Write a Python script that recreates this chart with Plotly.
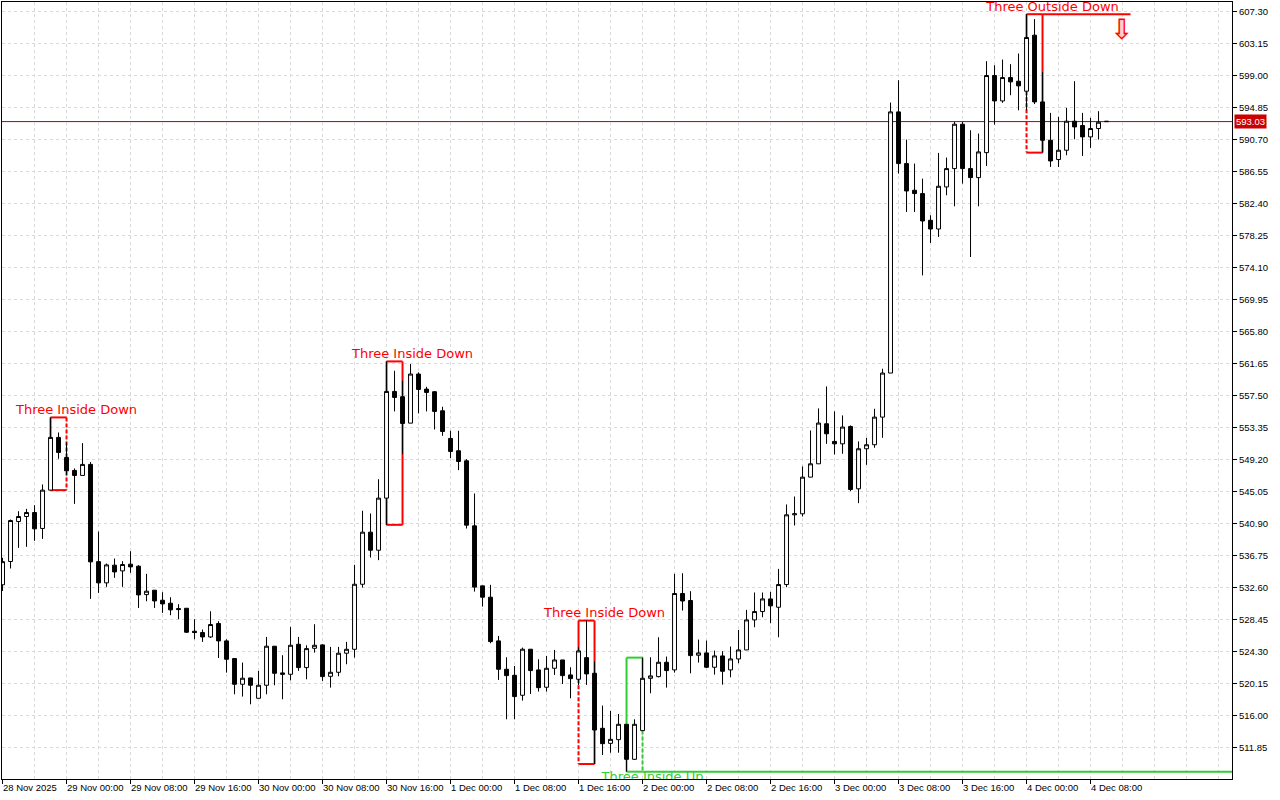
import pandas as pd
import plotly.graph_objects as go

# ---------------- data ----------------
start_time = "2025-11-28 16:00"
n_bars = 139
times = pd.date_range(start_time, periods=n_bars, freq="h")

opens = [533.0, 536.02, 541.2, 541.85, 542.37, 540.3, 545.27, 552.10, 549.5, 547.82,
         547.17, 548.6, 536.0, 533.25, 535.54, 534.8, 535.67, 535.41, 531.73, 532.3,
         531.0, 530.61, 529.92, 529.96, 526.98, 526.81, 526.24, 527.98, 525.73, 523.44,
         520.11, 520.93, 518.29, 519.98, 525.04, 521.58, 521.40, 525.29, 522.27, 524.77,
         525.21, 521.14, 521.66, 524.13, 524.64, 533.07, 539.82, 537.48, 544.23, 558.06,
         557.37, 553.95, 560.31, 558.36, 558.02, 555.55, 551.97, 550.37, 549.07, 540.64,
         532.86, 531.39, 525.73, 522.05, 521.27, 518.68, 524.65, 521.97, 519.72, 522.18,
         523.26, 521.32, 520.75, 523.56, 521.53, 514.40, 512.45, 512.93, 514.92, 510.38,
         514.10, 520.88, 521.10, 522.96, 521.97, 531.87, 530.96, 523.87, 524.17, 522.31,
         523.78, 521.97, 523.39, 524.56, 528.45, 529.53, 531.17, 530.09, 533.03, 542.07,
         542.2, 546.95, 548.68, 553.87, 551.58, 551.27, 553.52, 545.44, 550.63, 551.15,
         554.73, 560.44, 594.29, 587.59, 584.13, 583.70, 580.24, 579.11, 584.56, 586.94,
         592.69, 586.94, 585.77, 589.01, 599.0, 595.71, 598.74, 598.26, 596.97, 604.23,
         595.58, 590.61, 588.11, 589.32, 593.08, 592.52, 591.05, 592.13, 593.08]
highs = [536.5, 541.46, 542.54, 542.84, 543.32, 546.0, 554.69, 552.74, 551.45, 548.08,
         551.36, 548.9, 539.9, 535.76, 536.4, 536.06, 537.35, 535.54, 534.42, 532.3,
         532.04, 531.39, 530.48, 529.96, 528.54, 527.2, 529.57, 528.28, 525.94, 523.44,
         522.92, 520.93, 521.84, 526.24, 525.04, 523.87, 527.54, 526.24, 525.16, 527.89,
         525.29, 524.95, 524.95, 525.6, 535.58, 542.59, 542.24, 546.69, 561.95, 560.74,
         559.45, 561.61, 560.53, 558.67, 558.1, 556.07, 552.96, 552.96, 549.29, 544.83,
         532.86, 532.99, 526.37, 523.61, 522.48, 524.86, 524.65, 523.35, 523.78, 524.56,
         523.26, 522.31, 524.9, 528.36, 523.05, 517.34, 516.65, 516.26, 514.92, 515.57,
         523.56, 523.61, 526.2, 523.7, 534.42, 534.5, 532.17, 525.9, 525.77, 524.47,
         524.39, 525.0, 527.15, 529.75, 532.0, 532.0, 532.08, 535.06, 543.41, 544.44,
         548.34, 553.0, 555.86, 558.71, 555.47, 554.95, 553.65, 551.58, 552.05, 555.81,
         561.0, 595.50, 598.39, 590.70, 587.59, 585.64, 580.89, 588.97, 588.37, 592.99,
         592.99, 591.91, 591.48, 600.86, 600.34, 601.07, 600.47, 601.85, 606.95, 606.31,
         599.48, 594.16, 593.64, 594.81, 598.27, 594.16, 593.51, 594.38, 593.12]
lows = [532.2, 535.11, 537.79, 537.92, 538.7, 538.95, 545.27, 549.33, 547.2, 543.49,
        547.17, 531.17, 531.95, 532.73, 533.9, 532.73, 534.55, 530.0, 530.87, 530.0,
        529.36, 529.06, 528.54, 526.76, 525.94, 525.6, 526.11, 523.52, 521.62, 518.81,
        518.51, 517.51, 518.29, 518.81, 519.98, 518.16, 520.62, 521.84, 520.75, 524.21,
        520.54, 519.67, 521.14, 522.7, 523.56, 532.64, 536.53, 536.19, 540.77, 555.47,
        549.93, 553.95, 555.21, 555.47, 553.13, 552.31, 549.42, 547.86, 540.29, 532.12,
        530.18, 525.42, 520.67, 515.57, 515.57, 517.99, 518.85, 519.16, 519.16, 521.32,
        520.15, 518.29, 520.0, 520.02, 509.77, 510.94, 511.24, 511.24, 508.78, 510.29,
        514.10, 518.94, 521.0, 519.67, 521.62, 529.66, 521.53, 522.92, 522.22, 521.36,
        520.06, 521.01, 522.83, 524.56, 527.5, 528.79, 528.02, 526.20, 532.69, 540.68,
        541.85, 546.95, 548.68, 551.27, 549.89, 549.98, 545.14, 543.58, 548.55, 550.76,
        552.05, 560.44, 586.29, 581.32, 581.32, 573.10, 577.30, 578.08, 583.48, 582.05,
        584.99, 575.48, 582.05, 587.28, 592.64, 595.46, 596.45, 594.50, 594.50, 595.3,
        589.01, 587.15, 587.15, 588.67, 590.74, 588.58, 589.62, 590.70, 592.98]
closes = [536.0, 541.33, 541.85, 542.37, 540.25, 545.27, 552.10, 550.15, 547.77, 547.17,
          548.6, 535.97, 533.25, 535.58, 534.67, 535.63, 535.32, 531.69, 532.17, 530.91,
          530.52, 529.75, 529.79, 526.85, 526.81, 526.24, 527.85, 525.73, 523.35, 520.11,
          520.89, 519.98, 519.98, 525.04, 521.53, 521.40, 525.16, 522.27, 524.73, 525.16,
          521.1, 521.66, 524.13, 524.64, 533.07, 539.82, 537.48, 544.23, 558.06, 557.28,
          553.91, 560.31, 558.32, 557.93, 555.47, 552.87, 550.28, 548.98, 540.73, 532.7,
          531.39, 525.64, 522.05, 521.23, 518.51, 524.65, 521.88, 519.67, 522.18, 523.26,
          521.23, 520.84, 524.43, 521.45, 514.18, 512.41, 512.97, 514.92, 510.38, 514.92,
          520.88, 521.19, 522.96, 521.88, 531.87, 530.9, 523.82, 524.17, 522.31, 523.78,
          521.79, 523.39, 524.56, 528.45, 529.53, 531.17, 530.27, 533.03, 542.07, 542.2,
          546.95, 548.68, 553.96, 552.57, 551.27, 553.44, 545.35, 550.63, 551.15, 554.73,
          560.44, 594.29, 587.59, 584.04, 583.70, 580.15, 579.11, 584.65, 586.94, 592.69,
          586.94, 585.77, 589.10, 599.0, 595.71, 598.74, 598.18, 597.66, 603.93, 595.58,
          590.61, 587.93, 589.32, 593.08, 592.34, 591.05, 592.13, 592.95, 593.03]

last_price = 593.03

# y axis ticks
y_tick_labels = ["511.85", "516.00", "520.15", "524.30", "528.45", "532.60", "536.75",
                 "540.90", "545.05", "549.20", "553.35", "557.50", "561.65", "565.80",
                 "569.95", "574.10", "578.25", "582.40", "586.55", "590.70", "594.85",
                 "599.00", "603.15", "607.30"]
y_tick_values = [float(s) for s in y_tick_labels]

# x axis labels (every 8 bars)
x_tick_labels = ["28 Nov 2025", "29 Nov 00:00", "29 Nov 08:00", "29 Nov 16:00",
                 "30 Nov 00:00", "30 Nov 08:00", "30 Nov 16:00", "1 Dec 00:00",
                 "1 Dec 08:00", "1 Dec 16:00", "2 Dec 00:00", "2 Dec 08:00",
                 "2 Dec 16:00", "3 Dec 00:00", "3 Dec 08:00", "3 Dec 16:00",
                 "4 Dec 00:00", "4 Dec 08:00"]
x_tick_times = [times[0] + pd.Timedelta(hours=8 * i) for i in range(len(x_tick_labels))]

# candle patterns: first bar index of each 3-bar pattern
pattern_names = ["Three Inside Down", "Three Inside Down", "Three Inside Down",
                 "Three Inside Up", "Three Outside Down"]
pattern_start = [6, 48, 72, 78, 128]
pattern_colors = ["#ff0000", "#ff0000", "#ff0000", "#32cd32", "#ff0000"]
pattern_label_side = ["top", "top", "top", "bottom", "top"]
pattern_dash_side = ["right", None, "left", "right", "left"]
pattern_dash_from = ["top", None, "body", "body", "body"]
pattern_ext_edge = [None, None, None, "bottom", "top"]
pattern_ext_to = [None, None, None, "2025-12-06 00:00", "2025-12-04 13:00"]

arrow_time = "2025-12-04 11:54"
arrow_price = 605.0

# ---------------- figure ----------------
RED = "#ff0000"
GRID = "#d9d9d9"
AXIS_FONT = dict(family="Liberation Sans, Arial, sans-serif", size=9.5, color="black")

fig = go.Figure()

fig.add_trace(go.Candlestick(
    x=times, open=opens, high=highs, low=lows, close=closes,
    increasing=dict(line=dict(color="black", width=1), fillcolor="white"),
    decreasing=dict(line=dict(color="black", width=1), fillcolor="black"),
    whiskerwidth=0, hoverinfo="skip", showlegend=False,
))

# pattern rectangles
for name, s, col, side, dside, dfrom, eedge, eto in zip(
        pattern_names, pattern_start, pattern_colors, pattern_label_side,
        pattern_dash_side, pattern_dash_from, pattern_ext_edge, pattern_ext_to):
    top = max(highs[s:s + 3])
    bot = min(lows[s:s + 3])
    xl, xr = times[s], times[s + 2]
    solid = dict(color=col, width=2)
    dashed = dict(color=col, width=2, dash="4px,2px")
    fig.add_shape(type="line", x0=xl, x1=xr, y0=top, y1=top, line=solid, layer="between")
    fig.add_shape(type="line", x0=xl, x1=xr, y0=bot, y1=bot, line=solid, layer="between")
    for edge, xe in (("left", xl), ("right", xr)):
        idx = s if edge == "left" else s + 2
        if dside == edge:
            if dfrom == "top":
                ystart = top
            else:
                ystart = min(opens[idx], closes[idx])
                fig.add_shape(type="line", x0=xe, x1=xe, y0=top, y1=ystart,
                              line=solid, layer="between")
            fig.add_shape(type="line", x0=xe, x1=xe, y0=ystart, y1=bot,
                          line=dashed, layer="between")
        else:
            fig.add_shape(type="line", x0=xe, x1=xe, y0=top, y1=bot,
                          line=solid, layer="between")
    if eedge is not None:
        ye = top if eedge == "top" else bot
        fig.add_shape(type="line", x0=xr, x1=pd.Timestamp(eto), y0=ye, y1=ye,
                      line=solid, layer="between")
    lx = xr + pd.Timedelta(minutes=75)
    fig.add_trace(go.Scatter(
        x=[lx], y=[top if side == "top" else bot], mode="text", text=[name],
        textposition="top center" if side == "top" else "bottom center",
        textfont=dict(family="DejaVu Sans, Verdana, sans-serif", size=13, color=col),
        cliponaxis=True, hoverinfo="skip", showlegend=False,
    ))

# current price line
fig.add_shape(type="line", xref="paper", x0=0, x1=1, y0=last_price, y1=last_price,
              line=dict(color="#b00000", width=1), layer="between")
fig.add_annotation(xref="paper", x=1, xanchor="left", xshift=2, y=last_price,
                   text=f"{last_price:.2f}", showarrow=False, bgcolor="#cc0000",
                   font=dict(family=AXIS_FONT["family"], size=9.5, color="white"),
                   borderpad=1)

# sell arrow (pale fill + red outline)
fig.add_annotation(x=pd.Timestamp(arrow_time), y=arrow_price, text="\u2b07",
                   showarrow=False, font=dict(family="DejaVu Sans", size=25, color="#ffd0c8"))
fig.add_annotation(x=pd.Timestamp(arrow_time), y=arrow_price, text="\u21e9",
                   showarrow=False, font=dict(family="DejaVu Sans", size=28, color=RED))

# x labels (left-aligned at tick, like MT5)
for t, lab in zip(x_tick_times, x_tick_labels):
    fig.add_annotation(x=t, xref="x", y=0, yref="paper", yanchor="top", xanchor="left",
                       text=lab, showarrow=False, font=AXIS_FONT, yshift=-1, xshift=-2)

x0 = times[0] - pd.Timedelta(minutes=4)
x1 = x0 + pd.Timedelta(minutes=int(1230 / 8 * 60))

fig.update_layout(
    width=1280, height=800,
    margin=dict(l=2, r=48, t=2, b=21),
    paper_bgcolor="white", plot_bgcolor="white",
    showlegend=False,
    xaxis=dict(
        type="date", range=[x0, x1], rangeslider=dict(visible=False),
        tickvals=x_tick_times, showticklabels=False,
        ticks="outside", ticklen=4, tickcolor="black",
        showline=True, linecolor="black", linewidth=1, mirror=True,
        showgrid=True, gridcolor=GRID, griddash="3px,3px", gridwidth=1,
        minor=dict(dtick=4 * 3600 * 1000, tick0=times[0], showgrid=True,
                   gridcolor=GRID, griddash="3px,3px", ticks=""),
        zeroline=False,
    ),
    yaxis=dict(
        side="right", range=[507.83, 608.53],
        tickvals=y_tick_values, ticktext=y_tick_labels,
        ticks="outside", ticklen=4, tickcolor="black", tickfont=AXIS_FONT,
        showline=True, linecolor="black", linewidth=1, mirror=True,
        showgrid=True, gridcolor=GRID, griddash="3px,3px", gridwidth=1,
        zeroline=False,
    ),
)

fig.write_html("out.html", config={"displayModeBar": False},
               post_script="document.body.style.margin='0';document.body.style.overflow='hidden';")
